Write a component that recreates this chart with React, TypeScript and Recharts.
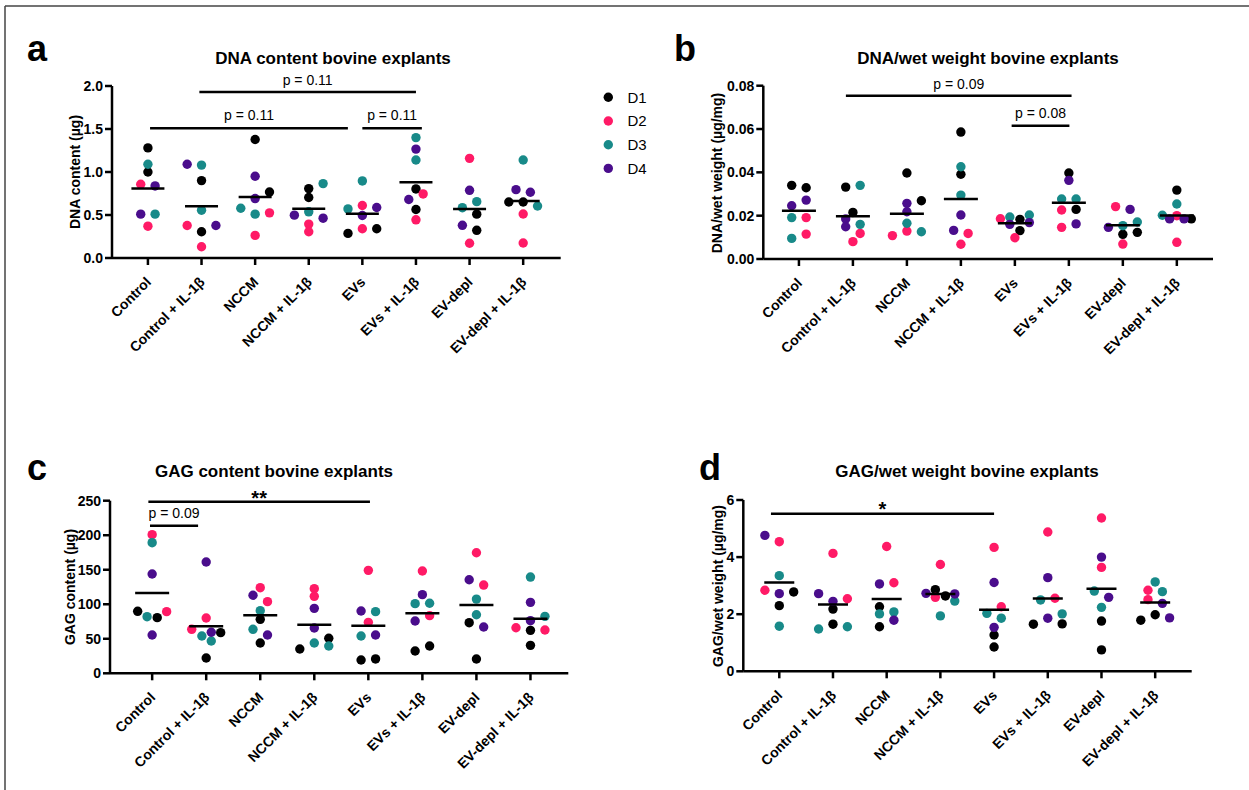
import React from 'react';
import { ScatterChart, Scatter, XAxis, YAxis, ReferenceLine } from 'recharts';

const FONT = '"Liberation Sans", Arial, Helvetica, sans-serif';

const categories = [
  'Control',
  'Control + IL-1β',
  'NCCM',
  'NCCM + IL-1β',
  'EVs',
  'EVs + IL-1β',
  'EV-depl',
  'EV-depl + IL-1β',
];
const donors = ['D1', 'D2', 'D3', 'D4'];
const donorColors = ['#000000', '#FF1A66', '#188A89', '#4A0D8C'];

// each point: [donor (1-4), value, spread rank within the group]
type Pt = [number, number, number];

const dnaContent: Pt[][] = [
  [[1, 1.28, 0], [3, 1.09, 0], [1, 1.0, 0], [2, 0.857, -1], [4, 0.838, 1], [4, 0.51, -1], [3, 0.51, 1], [2, 0.37, 0]],
  [[4, 1.09, -2], [3, 1.08, 0], [1, 0.9, 0], [3, 0.556, 0], [2, 0.378, -2], [4, 0.378, 2], [1, 0.305, 0], [2, 0.131, 0]],
  [[1, 1.378, 0], [4, 0.95, 0], [1, 0.768, 2], [4, 0.691, 0], [3, 0.579, -2], [3, 0.51, 0], [2, 0.525, 2], [2, 0.263, 0]],
  [[3, 0.865, 2], [1, 0.807, 0], [1, 0.703, 0], [3, 0.537, 0], [4, 0.498, -2], [4, 0.463, 2], [2, 0.394, 0], [2, 0.305, 0]],
  [[3, 0.896, 0], [3, 0.571, -2], [2, 0.61, 0], [4, 0.587, 2], [4, 0.494, 0], [2, 0.34, 0], [1, 0.286, -2], [1, 0.34, 2]],
  [[3, 1.4, 0], [4, 1.266, 0], [3, 1.139, 0], [1, 0.803, 0], [4, 0.68, -1], [2, 0.745, 1], [1, 0.564, 0], [2, 0.444, 0]],
  [[2, 1.159, 0], [4, 0.787, 0], [3, 0.655, 1], [3, 0.585, -1], [1, 0.51, 1], [4, 0.38, -1], [1, 0.322, 1], [2, 0.171, 0]],
  [[3, 1.14, 0], [4, 0.795, -1], [4, 0.764, 1], [1, 0.651, -2], [1, 0.651, 0], [3, 0.605, 2], [2, 0.512, 0], [2, 0.174, 0]],
];

const dnaWetWeight: Pt[][] = [
  [[1, 0.034, -1], [1, 0.0329, 1], [4, 0.0272, 1], [4, 0.0246, -1], [3, 0.0191, -1], [2, 0.0191, 1], [2, 0.0115, 1], [3, 0.0095, -1]],
  [[3, 0.034, 1], [1, 0.0332, -1], [1, 0.0215, 0], [4, 0.0185, -1], [4, 0.0149, -1], [3, 0.016, 1], [2, 0.0118, 1], [2, 0.008, 0]],
  [[1, 0.0397, 0], [1, 0.0269, 2], [4, 0.0257, 0], [4, 0.0218, 0], [3, 0.0165, 0], [2, 0.0129, 0], [3, 0.0126, 2], [2, 0.0108, -2]],
  [[1, 0.0586, 0], [3, 0.0426, 0], [1, 0.0391, 0], [3, 0.0295, 0], [4, 0.0203, 0], [4, 0.0132, -1], [2, 0.0118, 1], [2, 0.0068, 0]],
  [[2, 0.0186, -2], [3, 0.0194, -0.7], [1, 0.0183, 0.7], [4, 0.016, -0.7], [4, 0.0168, 2], [3, 0.0203, 2], [1, 0.0131, 0.7], [2, 0.0098, 0]],
  [[1, 0.0397, 0], [4, 0.0363, 0], [3, 0.0277, -1], [3, 0.0277, 1], [2, 0.0226, -1], [1, 0.0229, 1], [2, 0.0146, -1], [4, 0.0162, 1]],
  [[2, 0.0242, -1], [4, 0.0229, 1], [4, 0.0146, -2], [3, 0.0154, 0], [3, 0.0171, 2], [1, 0.0114, 0], [1, 0.0123, 2], [2, 0.0069, 0]],
  [[1, 0.0318, 0], [3, 0.0254, 0], [3, 0.0202, -2], [4, 0.0185, -1], [2, 0.02, 0], [4, 0.0185, 1], [1, 0.0185, 2], [2, 0.0077, 0]],
];

const gagContent: Pt[][] = [
  [[2, 200.8, 0], [3, 189.2, 0], [4, 143.9, 0], [1, 89.8, -2], [2, 89.3, 2], [3, 82, -0.7], [1, 80.6, 0.7], [4, 55.5, 0]],
  [[4, 161.2, 0], [2, 80.1, 0], [2, 63.7, -2], [3, 54, -0.6], [4, 59.4, 0.7], [1, 58.9, 2], [3, 46.8, 0.7], [1, 22.2, 0]],
  [[2, 124, 0], [4, 113, -1], [2, 103.8, 1], [3, 90.7, 0], [1, 78.2, 0], [3, 63.7, -1], [4, 55.5, 1], [1, 43.9, 0]],
  [[2, 122.6, 0], [2, 111.5, 0], [4, 94.1, 0], [4, 65.6, 0], [3, 43.9, 0], [1, 50.7, 2], [1, 35.2, -2], [3, 39.6, 2]],
  [[2, 149.1, 0], [4, 90.3, -1], [3, 89.3, 1], [2, 73.8, 0], [3, 54, -1], [4, 55.5, 1], [1, 19.3, -1], [1, 20.8, 1]],
  [[2, 148.2, 0], [4, 113.9, 0], [3, 100.9, -1], [3, 101.4, 1], [2, 83.5, 1], [4, 75.8, -1], [1, 32.3, -1], [1, 39.6, 1]],
  [[2, 174.6, 0], [4, 135.5, -1], [2, 127.8, 1], [3, 107.5, 0], [3, 84.8, 0], [1, 73.3, -1], [4, 67, 1], [1, 20.7, 0]],
  [[3, 139.4, 0], [4, 102.8, 0], [4, 76.2, 0], [3, 82.5, 2], [2, 66, -2], [1, 62.2, 0], [2, 62.7, 2], [1, 40.5, 0]],
];

const gagWetWeight: Pt[][] = [
  [[4, 4.76, -2], [2, 4.54, 0], [3, 3.35, 0], [2, 2.84, -2], [4, 2.72, 0], [1, 2.78, 2], [1, 2.3, 0], [3, 1.58, 0]],
  [[2, 4.13, 0], [4, 2.72, -2], [4, 2.45, 0], [2, 2.54, 2], [1, 2.18, 0], [1, 1.65, 0], [3, 1.48, -2], [3, 1.56, 2]],
  [[2, 4.37, 0], [4, 3.06, -1], [2, 3.1, 1], [1, 2.26, -1], [3, 2.01, -1], [3, 2.08, 1], [4, 1.79, 1], [1, 1.56, -1]],
  [[2, 3.74, 0], [4, 2.73, -2], [1, 2.86, -0.7], [2, 2.59, -0.7], [1, 2.64, 0.7], [4, 2.71, 2], [3, 2.46, 2], [3, 1.94, 0]],
  [[2, 4.34, 0], [4, 3.11, 0], [2, 2.26, 1], [3, 2.03, -1], [3, 1.86, 1], [4, 1.54, 0], [1, 1.27, 0], [1, 0.85, 0]],
  [[2, 4.88, 0], [4, 3.28, 0], [3, 2.5, -1], [2, 2.56, 1], [3, 2.01, 2], [4, 1.86, 0], [1, 1.65, -2], [1, 1.66, 2]],
  [[2, 5.37, 0], [4, 4.0, 0], [2, 3.64, 0], [3, 2.81, -1], [4, 2.59, 1], [3, 2.24, 0], [1, 1.76, 0], [1, 0.75, 0]],
  [[3, 3.13, 0], [2, 2.84, -1], [3, 2.79, 1], [2, 2.51, -1], [4, 2.38, 1], [1, 1.98, 0], [1, 1.79, -2], [4, 1.87, 2]],
];

const dnaContentTicks = [0, 0.5, 1, 1.5, 2];
const dnaWetWeightTicks = [0, 0.02, 0.04, 0.06, 0.08];
const gagContentTicks = [0, 50, 100, 150, 200, 250];
const gagWetWeightTicks = [0, 2, 4, 6];

type Bracket = { from: number; to: number; y: number; label: string; offset: number; size?: number; bold?: boolean };

const dnaContentBrackets: Bracket[] = [
  { from: 0.96, to: 5.0, y: 1.93, label: 'p = 0.11', offset: 7 },
  { from: 0.04, to: 3.73, y: 1.51, label: 'p = 0.11', offset: 8 },
  { from: 4.0, to: 5.11, y: 1.51, label: 'p = 0.11', offset: 8 },
];
const dnaWetWeightBrackets: Bracket[] = [
  { from: 0.87, to: 5.05, y: 0.0754, label: 'p = 0.09', offset: 7 },
  { from: 3.94, to: 5.01, y: 0.0615, label: 'p = 0.08', offset: 8 },
];
const gagContentBrackets: Bracket[] = [
  { from: -0.07, to: 4.03, y: 248.5, label: '**', offset: -3, size: 20, bold: true },
  { from: -0.04, to: 0.85, y: 213.7, label: 'p = 0.09', offset: 8 },
];
const gagWetWeightBrackets: Bracket[] = [
  { from: -0.155, to: 4.0, y: 5.52, label: '*', offset: -2, size: 20, bold: true },
];

const SPREAD = 0.134;
const catTicks = categories.map((_, i) => i);

const XTick = (props: any) => {
  const { x, y, payload } = props;
  const ax = x + 4;
  const ay = y + 16;
  return (
    <text
      x={ax}
      y={ay}
      transform={`rotate(-45 ${ax} ${ay})`}
      textAnchor="end"
      fontSize={14}
      fontWeight="bold"
      fill="#000"
      fontFamily={FONT}
    >
      {categories[payload.value]}
    </text>
  );
};

type PanelProps = {
  groups: Pt[][];
  yTicks: number[];
  decimals: number;
  brackets: Bracket[];
  box: { left: number; top: number; width: number; height: number };
  margin: { top: number; right: number; bottom: number; left: number };
  xDomain: [number, number];
  meanHalf: number;
};

function Panel({ groups, yTicks, decimals, brackets, box, margin, xDomain, meanHalf }: PanelProps) {
  const series = donors.map((_, d) => {
    const pts: { x: number; y: number }[] = [];
    groups.forEach((g, ci) =>
      g.forEach(([donor, v, s]) => {
        if (donor === d + 1) pts.push({ x: ci + s * SPREAD, y: v });
      })
    );
    return pts;
  });
  const means = groups.map((g, ci) => ({ x: ci, y: g.reduce((a, p) => a + p[1], 0) / g.length }));
  return (
    <div style={{ position: 'absolute', left: box.left, top: box.top }}>
      <ScatterChart width={box.width} height={box.height} margin={margin} style={{ fontFamily: FONT }}>
        <XAxis
          type="number"
          dataKey="x"
          domain={xDomain}
          ticks={catTicks}
          interval={0}
          allowDataOverflow
          height={60}
          tickSize={7}
          tick={<XTick />}
          tickLine={{ stroke: '#000', strokeWidth: 2.5 }}
          axisLine={{ stroke: '#000', strokeWidth: 2.5 }}
        />
        <YAxis
          type="number"
          dataKey="y"
          domain={[0, yTicks[yTicks.length - 1]]}
          ticks={yTicks}
          interval={0}
          allowDataOverflow
          width={50}
          tickSize={7}
          tickFormatter={(v: number) => v.toFixed(decimals)}
          tick={{ fill: '#000', fontSize: 14, fontWeight: 'bold', fontFamily: FONT }}
          tickLine={{ stroke: '#000', strokeWidth: 2.5 }}
          axisLine={{ stroke: '#000', strokeWidth: 2.5 }}
        />
        {series.map((pts, d) => (
          <Scatter
            key={donors[d]}
            name={donors[d]}
            data={pts}
            fill={donorColors[d]}
            isAnimationActive={false}
            shape={(p: any) => <circle cx={p.cx} cy={p.cy} r={4.7} fill={donorColors[d]} />}
          />
        ))}
        <Scatter
          name="mean"
          data={means}
          isAnimationActive={false}
          shape={(p: any) => (
            <line x1={p.cx - meanHalf} x2={p.cx + meanHalf} y1={p.cy} y2={p.cy} stroke="#000" strokeWidth={2.5} />
          )}
        />
        {brackets.map((b, i) => (
          <ReferenceLine
            key={i}
            segment={[
              { x: b.from, y: b.y },
              { x: b.to, y: b.y },
            ]}
            stroke="#000"
            strokeWidth={2.5}
            ifOverflow="visible"
            label={{
              value: b.label,
              position: 'top',
              offset: b.offset,
              fill: '#000',
              fontSize: b.size ?? 14,
              fontWeight: b.bold ? 'bold' : 'normal',
              fontFamily: FONT,
            }}
          />
        ))}
      </ScatterChart>
    </div>
  );
}

const titles = [
  { text: 'DNA content bovine explants', x: 333, y: 64 },
  { text: 'DNA/wet weight bovine explants', x: 988, y: 64 },
  { text: 'GAG content bovine explants', x: 274, y: 477 },
  { text: 'GAG/wet weight bovine explants', x: 967, y: 477 },
];
const letters = [
  { text: 'a', x: 27, y: 61 },
  { text: 'b', x: 674, y: 61 },
  { text: 'c', x: 27, y: 480 },
  { text: 'd', x: 699, y: 480 },
];
const yLabels = [
  { text: 'DNA content (µg)', x: 80, y: 172 },
  { text: 'DNA/wet weight (µg/mg)', x: 722, y: 173 },
  { text: 'GAG content (µg)', x: 75, y: 587 },
  { text: 'GAG/wet weight (µg/mg)', x: 723, y: 586 },
];

export default function App() {
  return (
    <div
      style={{
        position: 'absolute',
        left: 0,
        top: 0,
        width: 1249,
        height: 790,
        background: '#fff',
        overflow: 'hidden',
        fontFamily: FONT,
      }}
    >
      <Panel
        groups={dnaContent}
        yTicks={dnaContentTicks}
        decimals={1}
        brackets={dnaContentBrackets}
        box={{ left: 0, top: 0, width: 600, height: 400 }}
        margin={{ top: 86, right: 39.3, bottom: 82, left: 62 }}
        xDomain={[-0.67, 7.7]}
        meanHalf={16.5}
      />
      <Panel
        groups={dnaWetWeight}
        yTicks={dnaWetWeightTicks}
        decimals={2}
        brackets={dnaWetWeightBrackets}
        box={{ left: 620, top: 0, width: 620, height: 400 }}
        margin={{ top: 85.7, right: 27, bottom: 81, left: 93.3 }}
        xDomain={[-0.66, 7.67]}
        meanHalf={17}
      />
      <Panel
        groups={gagContent}
        yTicks={gagContentTicks}
        decimals={0}
        brackets={gagContentBrackets}
        box={{ left: 0, top: 400, width: 600, height: 390 }}
        margin={{ top: 100.7, right: 31.7, bottom: 56.7, left: 60 }}
        xDomain={[-0.78, 7.7]}
        meanHalf={17}
      />
      <Panel
        groups={gagWetWeight}
        yTicks={gagWetWeightTicks}
        decimals={0}
        brackets={gagWetWeightBrackets}
        box={{ left: 620, top: 400, width: 620, height: 390 }}
        margin={{ top: 100, right: 48.3, bottom: 58.7, left: 73.3 }}
        xDomain={[-0.67, 7.68]}
        meanHalf={15}
      />
      <svg
        width={1249}
        height={790}
        style={{ position: 'absolute', left: 0, top: 0, pointerEvents: 'none' }}
      >
        <line x1={5} y1={6} x2={1249} y2={6} stroke="#444" strokeWidth={1.5} />
        <line x1={5} y1={6} x2={5} y2={790} stroke="#444" strokeWidth={1.5} />
        {letters.map((l) => (
          <text key={l.text} x={l.x} y={l.y} fontSize={36} fontWeight="bold" fill="#000" fontFamily={FONT}>
            {l.text}
          </text>
        ))}
        {titles.map((t) => (
          <text key={t.text} x={t.x} y={t.y} textAnchor="middle" fontSize={17} fontWeight="bold" fill="#000" fontFamily={FONT}>
            {t.text}
          </text>
        ))}
        {yLabels.map((t) => (
          <text
            key={t.text}
            x={t.x}
            y={t.y}
            transform={`rotate(-90 ${t.x} ${t.y})`}
            textAnchor="middle"
            fontSize={14}
            fontWeight="bold"
            fill="#000"
            fontFamily={FONT}
          >
            {t.text}
          </text>
        ))}
        {donors.map((d, i) => (
          <g key={d}>
            <circle cx={608.3} cy={97.3 + i * 23.7} r={4.7} fill={donorColors[i]} />
            <text x={627.5} y={102.7 + i * 23.7} fontSize={15} fill="#000" fontFamily={FONT}>
              {d}
            </text>
          </g>
        ))}
      </svg>
    </div>
  );
}
